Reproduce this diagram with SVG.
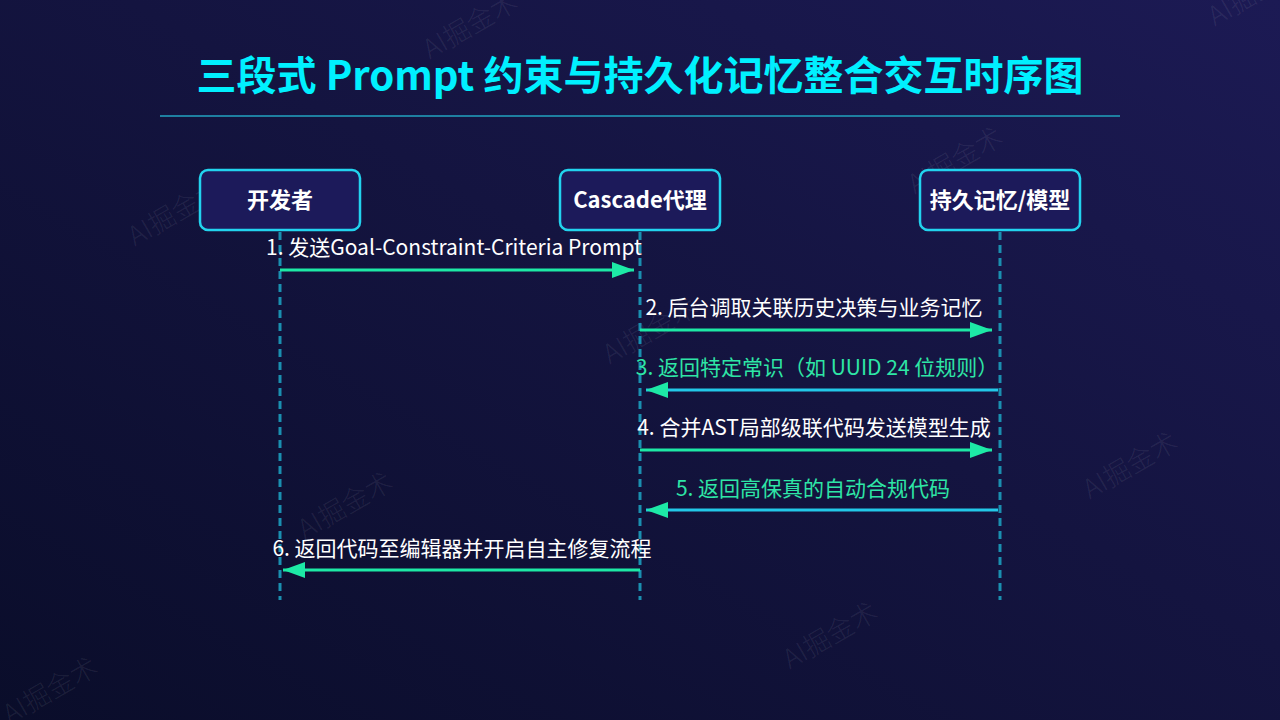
<svg xmlns="http://www.w3.org/2000/svg" width="1280" height="720" viewBox="0 0 1280 720">
<defs>
<linearGradient id="bg" x1="0" y1="1" x2="1" y2="0">
<stop offset="0" stop-color="#0a0d2a"/>
<stop offset="0.55" stop-color="#141440"/>
<stop offset="1" stop-color="#1c1a54"/>
</linearGradient>
<marker id="ah" viewBox="0 0 22 16" refX="22" refY="8" markerWidth="22" markerHeight="16" markerUnits="userSpaceOnUse" orient="auto">
<path d="M0,0 L22,8 L0,16 Z" fill="#1de9a6"/>
</marker>
<style>
.wm{font-family:"Noto Sans CJK SC","Noto Sans",sans-serif;font-size:27px;font-weight:300;fill:#ffffff;fill-opacity:0.08}
.box{fill:#1c1a5a;stroke:#22d3ee;stroke-width:2.5}
.bt{font-family:"Noto Sans CJK SC","Noto Sans",sans-serif;font-size:22px;font-weight:bold;fill:#ffffff;text-anchor:middle}
.life{stroke:#1a8fb0;stroke-width:3;stroke-dasharray:8 5;fill:none}
.fwd{stroke:#1de9a6;stroke-width:3;fill:none;marker-end:url(#ah)}
.ret{stroke:#22c8e8;stroke-width:3;fill:none;marker-end:url(#ah)}
.lw{font-family:"Noto Sans CJK SC","Noto Sans",sans-serif;font-size:21px;fill:#ffffff;text-anchor:middle}
.lg{font-family:"Noto Sans CJK SC","Noto Sans",sans-serif;font-size:21px;fill:#2ee6a6;text-anchor:middle}
</style>
</defs>
<rect width="1280" height="720" fill="url(#bg)"/>
<g id="watermarks">
<text class="wm" transform="translate(175,212) rotate(-30)" text-anchor="middle" dy="10">AI掘金术</text>
<text class="wm" transform="translate(470,25) rotate(-30)" text-anchor="middle" dy="10">AI掘金术</text>
<text class="wm" transform="translate(650,330) rotate(-30)" text-anchor="middle" dy="10">AI掘金术</text>
<text class="wm" transform="translate(955,160) rotate(-30)" text-anchor="middle" dy="10">AI掘金术</text>
<text class="wm" transform="translate(1130,465) rotate(-30)" text-anchor="middle" dy="10">AI掘金术</text>
<text class="wm" transform="translate(345,505) rotate(-30)" text-anchor="middle" dy="10">AI掘金术</text>
<text class="wm" transform="translate(830,635) rotate(-30)" text-anchor="middle" dy="10">AI掘金术</text>
<text class="wm" transform="translate(50,690) rotate(-30)" text-anchor="middle" dy="10">AI掘金术</text>
<text class="wm" transform="translate(1255,-8) rotate(-30)" text-anchor="middle" dy="10">AI掘金术</text>
</g>
<g id="title">
<text x="640" y="90" text-anchor="middle" font-family="'Noto Sans CJK SC','Noto Sans',sans-serif" font-size="40" font-weight="bold" fill="#00f0ff">三段式 Prompt 约束与持久化记忆整合交互时序图</text>
<line x1="160" y1="116" x2="1120" y2="116" stroke="#1e7fa0" stroke-width="2"/>
</g>
<g id="lifelines">
<line class="life" x1="280" y1="232" x2="280" y2="600"/>
<line class="life" x1="640" y1="232" x2="640" y2="600"/>
<line class="life" x1="1000" y1="232" x2="1000" y2="600"/>
</g>
<g id="node-developer">
<rect class="box" x="200" y="170" width="160" height="60" rx="8"/>
<text class="bt" x="280" y="208">开发者</text>
</g>
<g id="node-cascade">
<rect class="box" x="560" y="170" width="160" height="60" rx="8"/>
<text class="bt" x="640" y="208">Cascade代理</text>
</g>
<g id="node-memory">
<rect class="box" x="920" y="170" width="160" height="60" rx="8"/>
<text class="bt" x="1000" y="208">持久记忆/模型</text>
</g>
<g id="connectors">
<line class="fwd" x1="280" y1="270" x2="634" y2="270"/>
<line class="fwd" x1="640" y1="330" x2="992" y2="330"/>
<line class="ret" x1="998" y1="390" x2="646" y2="390"/>
<line class="fwd" x1="640" y1="450" x2="992" y2="450"/>
<line class="ret" x1="998" y1="510" x2="646" y2="510"/>
<line class="fwd" x1="640" y1="570" x2="283" y2="570"/>
<text class="lw" x="454" y="255">1. 发送Goal-Constraint-Criteria Prompt</text>
<text class="lw" x="814" y="315">2. 后台调取关联历史决策与业务记忆</text>
<text class="lg" x="817" y="375">3. 返回特定常识（如 UUID 24 位规则）</text>
<text class="lw" x="814" y="435">4. 合并AST局部级联代码发送模型生成</text>
<text class="lg" x="813" y="496">5. 返回高保真的自动合规代码</text>
<text class="lw" x="462" y="556">6. 返回代码至编辑器并开启自主修复流程</text>
</g>
</svg>
